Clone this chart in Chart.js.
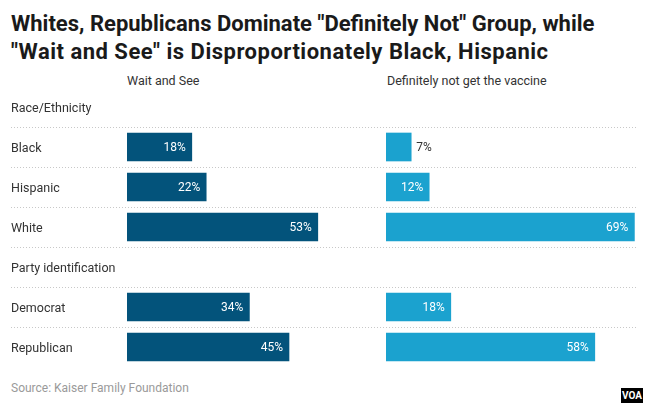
<!DOCTYPE html>
<html><head><meta charset="utf-8">
<script src="https://cdn.jsdelivr.net/npm/chart.js@4"></script>
<style>
html,body{margin:0;padding:0;background:#fff;width:650px;height:406px;overflow:hidden;font-family:Roboto,"Liberation Sans",sans-serif;}
#title{position:absolute;left:11px;top:10px;font-weight:700;font-size:22px;line-height:28px;color:#1a1a1a;white-space:nowrap;}
#title .l2{letter-spacing:0.5px;}
.colhead{position:absolute;top:73px;font-size:12.5px;line-height:16px;color:#333;white-space:nowrap;}
#source{position:absolute;left:11px;top:380px;font-size:12px;line-height:16px;color:#9a9a9a;}
#voa{position:absolute;left:621px;top:388px;width:22px;height:15px;background:#000;color:#fff;font-weight:700;font-size:10px;line-height:15px;text-align:center;}
canvas{position:absolute;}
</style></head>
<body>
<div id="title"><span>Whites, Republicans Dominate "Definitely Not" Group, while</span><br><span class="l2">"Wait and See" is Disproportionately Black, Hispanic</span></div>
<div class="colhead" style="left:127px">Wait and See</div>
<div class="colhead" style="left:387px">Definitely not get the vaccine</div>
<canvas id="c1" width="650" height="280" style="left:0;top:87px"></canvas>
<canvas id="c2" width="252" height="280" style="left:386px;top:87px"></canvas>
<div id="source">Source: Kaiser Family Foundation</div>
<div id="voa">VOA</div>
<script>
const categories = ["Race/Ethnicity", "Black", "Hispanic", "White", "Party identification", "Democrat", "Republican"];
const waitAndSee = [null, 18, 22, 53, null, 34, 45];
const definitelyNot = [null, 7, 12, 69, null, 18, 58];
const seriesNames = ["Wait and See", "Definitely not get the vaccine"];

const DARK = "#03537b";
const LIGHT = "#1ba2cf";

const gridPlugin = {
  id: "rowLines",
  beforeDatasetsDraw(chart) {
    const ys = chart.scales.y;
    const ctx = chart.ctx;
    ctx.save();
    ctx.strokeStyle = "#c8c8c8";
    ctx.lineWidth = 1;
    ctx.setLineDash([1, 2]);
    for (let i = 1; i < categories.length; i++) {
      const y = Math.round((ys.getPixelForValue(i - 1) + ys.getPixelForValue(i)) / 2) + 0.5;
      ctx.beginPath();
      ctx.moveTo(11, y);
      ctx.lineTo(638, y);
      ctx.stroke();
    }
    ctx.restore();
  }
};

const valueLabels = {
  id: "valueLabels",
  afterDatasetsDraw(chart) {
    const ctx = chart.ctx;
    ctx.save();
    ctx.font = "12px Roboto";
    ctx.textBaseline = "middle";
    chart.data.datasets.forEach((ds, di) => {
      const meta = chart.getDatasetMeta(di);
      meta.data.forEach((el, i) => {
        const v = ds.data[i];
        if (v === null || v === undefined) return;
        const txt = v + "%";
        const tw = ctx.measureText(txt).width;
        const w = el.x - el.base;
        if (w >= tw + 12) {
          ctx.fillStyle = "#ffffff";
          ctx.textAlign = "right";
          ctx.fillText(txt, el.x - 6, el.y + 1);
        } else {
          ctx.fillStyle = "#333333";
          ctx.textAlign = "left";
          ctx.fillText(txt, el.x + 5, el.y + 1);
        }
      });
    });
    ctx.restore();
  }
};

function makeChart(id, values, color, name, showAxis, padding) {
  const yScale = {
    display: showAxis,
    grid: { display: false },
    border: { display: false },
    ticks: { crossAlign: "far", color: "#333", padding: 0, labelOffset: 2, autoSkip: false, font: { family: "Roboto", size: 12.5 } }
  };
  if (showAxis) {
    yScale.afterFit = function (s) { s.width = 116; s.paddingTop = 0; s.paddingBottom = 0; };
  }
  return new Chart(document.getElementById(id), {
    type: "bar",
    data: {
      labels: categories,
      datasets: [{
        label: name,
        data: values,
        backgroundColor: color,
        borderWidth: 0,
        barThickness: 28
      }]
    },
    options: {
      indexAxis: "y",
      responsive: false,
      devicePixelRatio: 1,
      animation: false,
      layout: { padding: padding },
      plugins: { legend: { display: false }, tooltip: { enabled: false }, title: { display: false } },
      scales: {
        x: { display: false, min: 0, max: 70 },
        y: yScale
      }
    },
    plugins: showAxis ? [gridPlugin, valueLabels] : [valueLabels]
  });
}

makeChart("c1", waitAndSee, DARK, seriesNames[0], true, { left: 11, right: 271, top: 0, bottom: 0 });
makeChart("c2", definitelyNot, LIGHT, seriesNames[1], false, 0);
</script>
</body></html>
